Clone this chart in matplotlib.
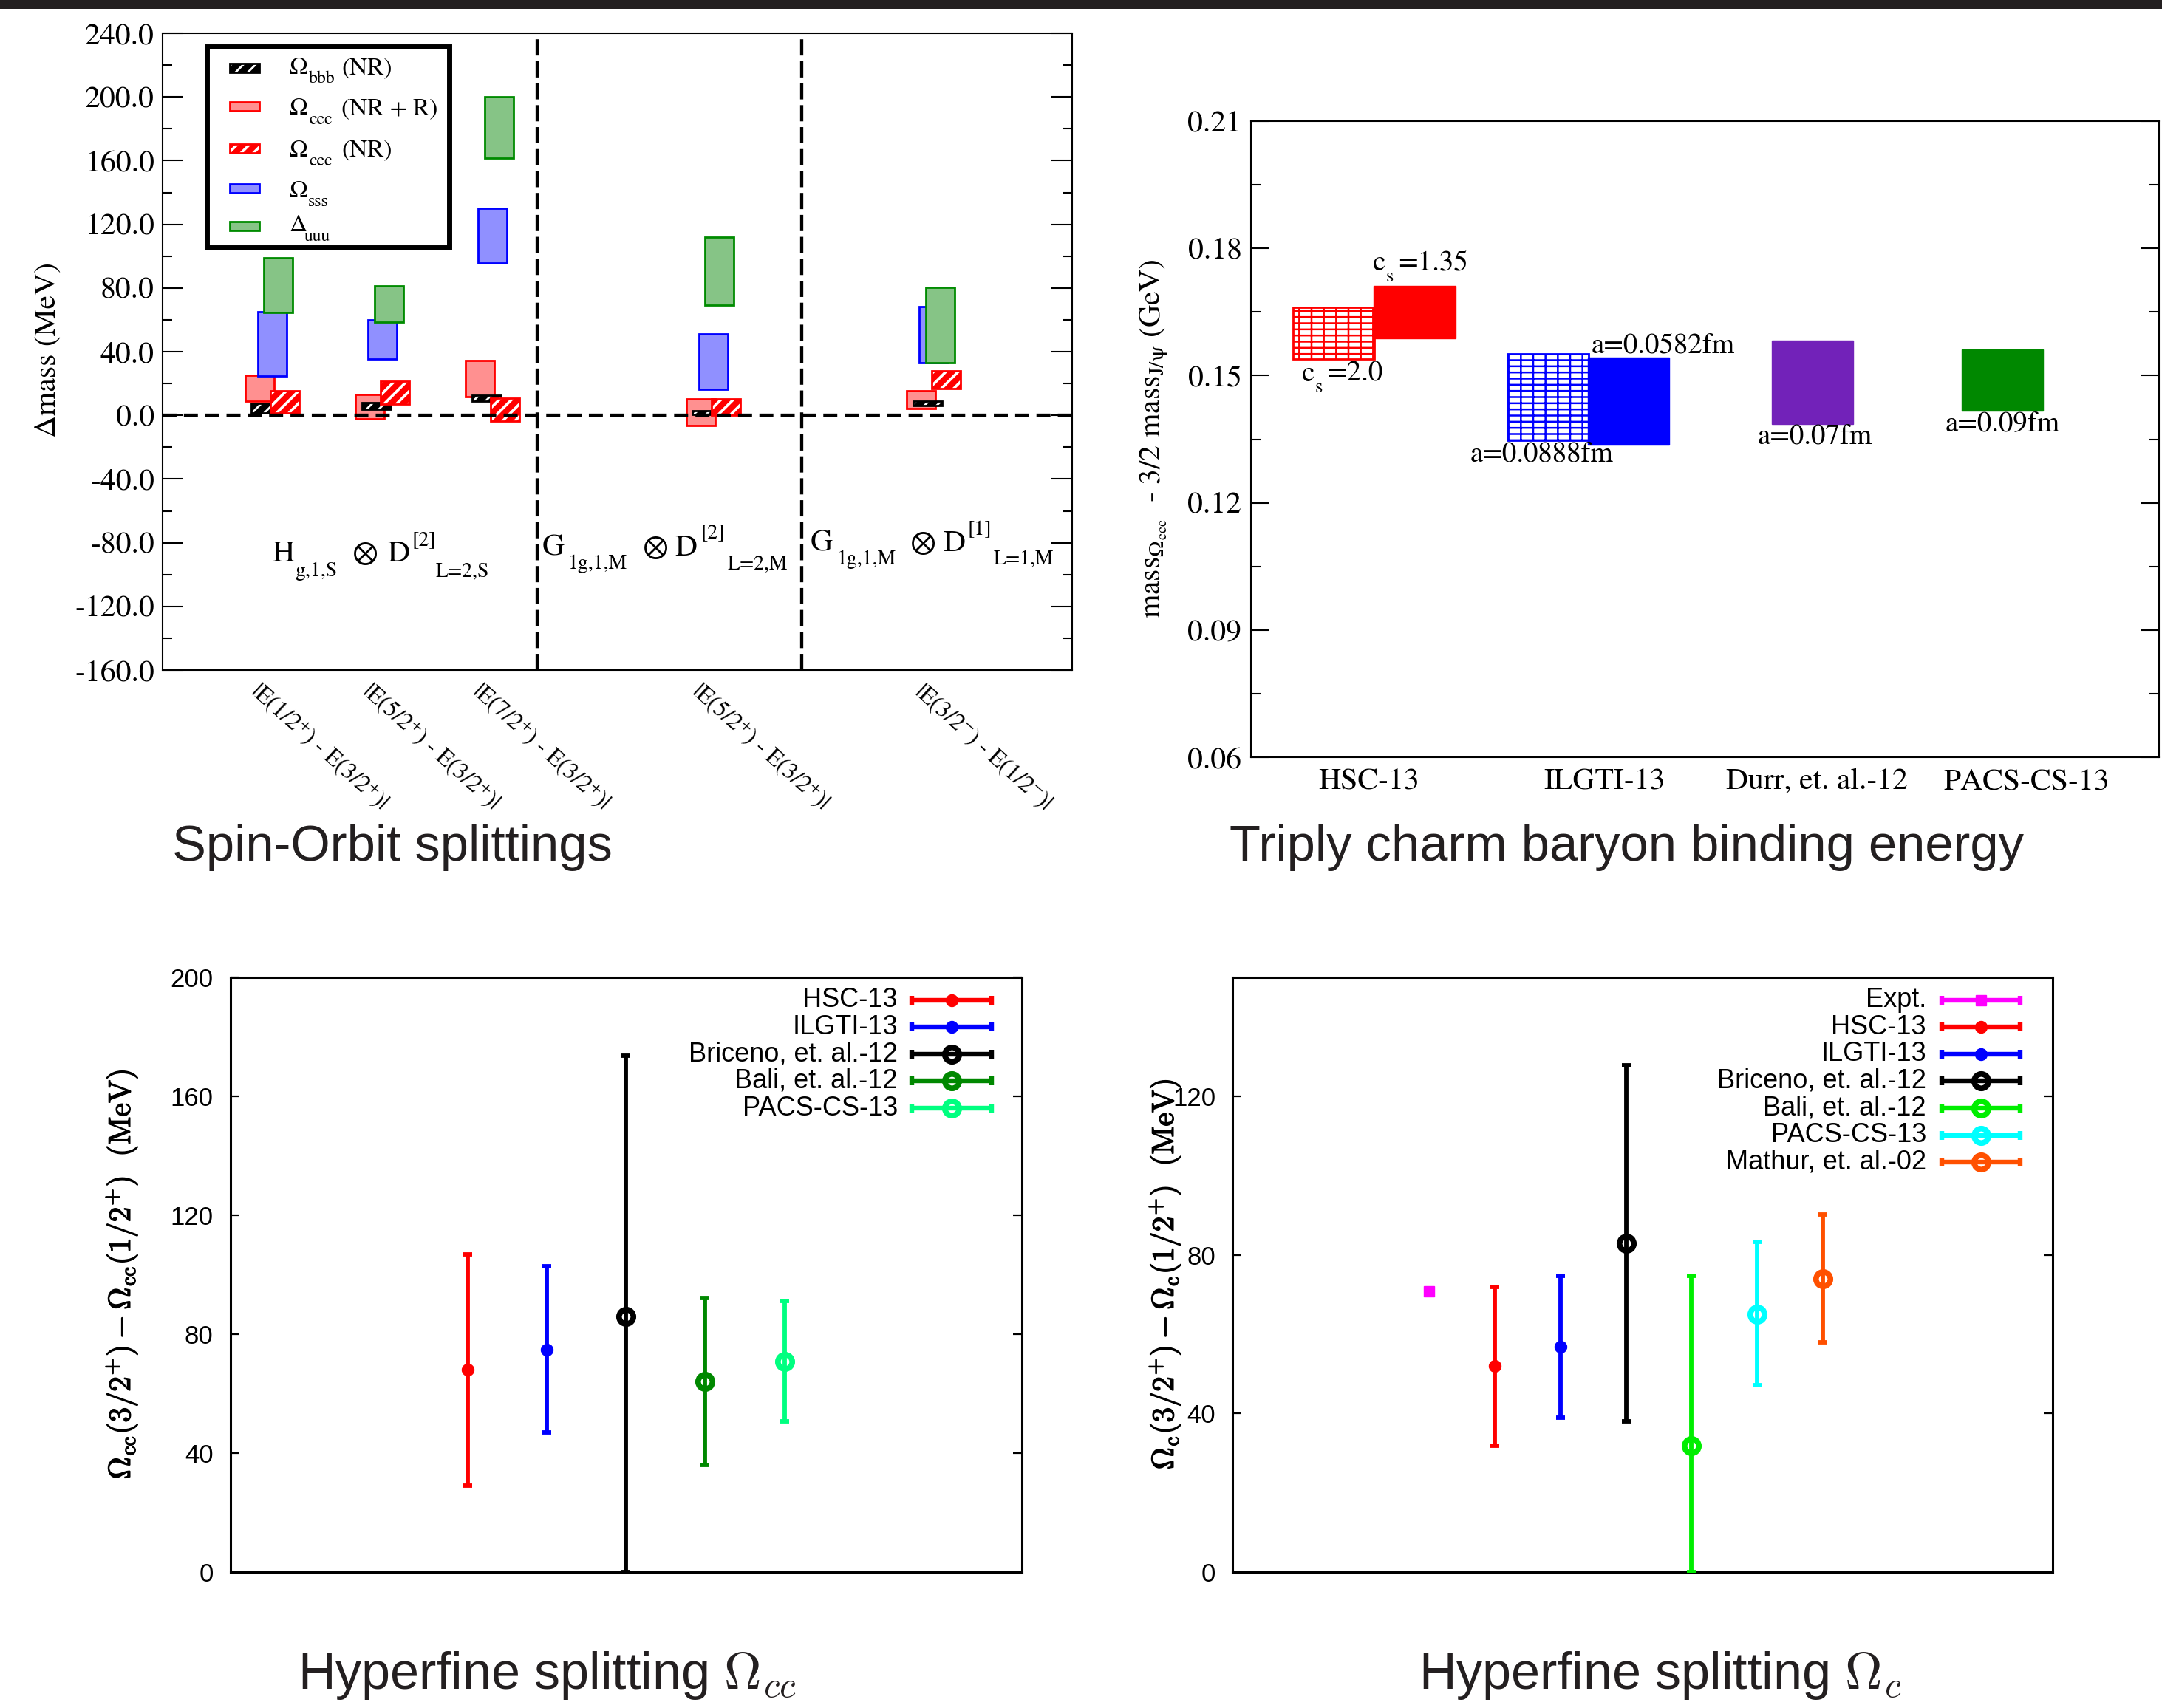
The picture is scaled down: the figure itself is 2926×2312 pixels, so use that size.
import matplotlib
matplotlib.use('Agg')
import matplotlib.pyplot as plt
import matplotlib.ticker as mticker
import matplotlib.patheffects as pe
from matplotlib.patches import Rectangle
import numpy as np

plt.rcParams['mathtext.fontset'] = 'stix'
plt.rcParams['axes.unicode_minus'] = False

W, H, DPI = 2926, 2312, 100
SERIF = ['STIXGeneral', 'Liberation Serif', 'DejaVu Serif', 'DejaVu Sans']
SANS = ['Liberation Sans', 'DejaVu Sans']
INK = '#231f20'

# ---------------- Panel 1: spin-orbit splittings (MeV) ----------------
so_groups = [1, 2, 3, 5, 7]
so_label_pos = [1.153, 2.162, 3.161, 5.151, 7.172]
so_labels = [r'|E(1/2$^{+}$) - E(3/2$^{+}$)|', r'|E(5/2$^{+}$) - E(3/2$^{+}$)|',
             r'|E(7/2$^{+}$) - E(3/2$^{+}$)|', r'|E(5/2$^{+}$) - E(3/2$^{+}$)|',
             r'|E(3/2$^{-}$) - E(1/2$^{-}$)|']
omega_ccc_nrr_lo = [8.7, -2.2, 11.5, -6.4, 4.5]
omega_ccc_nrr_hi = [25.2, 13.3, 34.2, 10.5, 15.5]
omega_bbb_nr_lo = [1.7, 3.7, 8.7, 0.5, 6.2]
omega_bbb_nr_hi = [7.6, 7.9, 12.5, 2.8, 9.0]
omega_sss_lo = [24.6, 35.4, 95.6, 16.2, 33.1]
omega_sss_hi = [65.1, 60.0, 130.1, 51.2, 68.2]
delta_uuu_lo = [64.4, 58.5, 161.4, 69.3, 33.1]
delta_uuu_hi = [99.0, 81.1, 200.1, 112.0, 80.2]
omega_ccc_nr_lo = [1.4, 7.1, -3.7, -0.1, 17.0]
omega_ccc_nr_hi = [15.6, 21.4, 10.7, 10.5, 28.0]
so_dividers = [3.65, 6.05]
so_legend_main = ['Ω', 'Ω', 'Ω', 'Ω', 'Δ']
so_legend_sub = ['bbb', 'ccc', 'ccc', 'sss', 'uuu']
so_legend_tail = ['(NR)', '(NR + R)', '(NR)', '', '']
# irrep labels: (text, role) pieces, m = main, s = sub/superscript
so_irreps = [
    [('H', 'm'), ('g,1,S', 's'), ('⊗', 'm'), ('D', 'm'), ('[2]', 's'), ('L=2,S', 's')],
    [('G', 'm'), ('1g,1,M', 's'), ('⊗', 'm'), ('D', 'm'), ('[2]', 's'), ('L=2,M', 's')],
    [('G', 'm'), ('1g,1,M', 's'), ('⊗', 'm'), ('D', 'm'), ('[1]', 's'), ('L=1,M', 's')],
]
# piece anchor points in figure pixels (left, baseline)
so_irrep_px = [
    [(368, 760), (399, 780), (477, 760), (524, 760), (557, 738), (590, 780)],
    [(734, 752), (769, 770), (870, 752), (913.6, 752), (948.6, 728), (984.4, 770)],
    [(1096.7, 746), (1132.6, 764), (1231.7, 746), (1276, 746), (1310, 724), (1345, 764)],
]

# ---------------- Panel 2: triply charm binding energy (GeV) ----------------
be_categories = ['HSC-13', 'ILGTI-13', 'Durr, et. al.-12', 'PACS-CS-13']
be_cat_pos = [0.56, 1.676, 2.68, 3.674]
be_bar_centers = [0.391, 0.775, 1.408, 1.789, 2.659, 3.559]
be_lo = [0.1539, 0.1588, 0.1347, 0.1337, 0.1386, 0.1417]
be_hi = [0.1661, 0.1712, 0.1551, 0.1542, 0.1583, 0.1562]
be_colors = ['#ff0000', '#ff0000', '#0000ff', '#0000ff', '#7222b9', '#008800']
be_brick = [True, False, True, False, False, False]
be_notes = ['a=0.0888fm', 'a=0.0582fm', 'a=0.07fm', 'a=0.09fm']
be_note_xy = [(1.039, 0.1297), (1.61, 0.1553), (2.40, 0.1340), (3.289, 0.1370)]
be_cs_values = ['=2.0', '=1.35']
be_cs_px = [(1762, 516), (1858, 366)]

# ---------------- Panel 3: hyperfine splitting Omega_cc (MeV) ----------------
hcc_names = ['HSC-13', 'ILGTI-13', 'Briceno, et. al.-12', 'Bali, et. al.-12', 'PACS-CS-13']
hcc_x = [3, 4, 5, 6, 7]
hcc_val = [68.0, 74.9, 85.9, 64.0, 70.9]
hcc_lo = [29.0, 47.0, 0.0, 36.0, 50.8]
hcc_hi = [106.9, 102.9, 173.7, 92.1, 91.1]
hcc_colors = ['#ff0000', '#0000ff', '#000000', '#008800', '#00ff80']
hcc_kind = ['dot', 'dot', 'ring', 'ring', 'ring']

# ---------------- Panel 4: hyperfine splitting Omega_c (MeV) ----------------
hc_names = ['Expt.', 'HSC-13', 'ILGTI-13', 'Briceno, et. al.-12', 'Bali, et. al.-12',
            'PACS-CS-13', 'Mathur, et. al.-02']
hc_x = [3, 4, 5, 6, 7, 8, 9]
hc_val = [70.8, 51.9, 56.9, 82.9, 31.9, 65.0, 73.9]
hc_lo = [70.8, 31.9, 39.0, 38.0, 0.0, 47.1, 57.9]
hc_hi = [70.8, 71.9, 74.8, 127.8, 74.8, 83.2, 90.2]
hc_colors = ['#ff00ff', '#ff0000', '#0000ff', '#000000', '#00ee00', '#00ffff', '#ff5000']
hc_kind = ['square', 'dot', 'dot', 'ring', 'ring', 'ring', 'ring']


def axes_rect(x0, y0, x1, y1):
    return [x0 / W, 1 - y1 / H, (x1 - x0) / W, (y1 - y0) / H]


def fx(x):
    return x / W


def fy(y):
    return 1 - y / H


def ptext(x, y, s, size, **kw):
    kw.setdefault('family', SERIF)
    return fig.text(fx(x), fy(y), s, fontsize=size, ha='left', va='baseline', **kw)


def draw_layers(make, layers):
    for L in layers:
        L = dict(L)
        hlw = L.pop('hlw', None)
        with plt.rc_context({'hatch.linewidth': hlw if hlw else 1.0}):
            arts = make(**L)
        if hlw:
            for a in arts:
                if hasattr(a, 'set_hatch_linewidth'):
                    a.set_hatch_linewidth(hlw)


def dotted(color, tint):
    return [dict(facecolor=tint, edgecolor=color, linewidth=2.0)]


def striped(color, hlw=2.6):
    return [dict(facecolor=color, edgecolor='none', linewidth=0),
            dict(facecolor='none', edgecolor='white', linewidth=0, hatch='//', hlw=hlw),
            dict(facecolor='none', edgecolor=color, linewidth=2.0)]


fig = plt.figure(figsize=(W / DPI, H / DPI), dpi=DPI)
fig.patch.set_facecolor('white')
fig.add_artist(Rectangle((0, fy(12)), 1, 12 / H, transform=fig.transFigure,
                         facecolor=INK, edgecolor='none'))

# ======================= Panel 1 =======================
ax1 = fig.add_axes(axes_rect(220, 45, 1451, 907))
ax1.set_xlim(0.25, 8.5)
ax1.set_ylim(-160, 240)
ax1.yaxis.set_major_locator(mticker.MultipleLocator(40))
ax1.yaxis.set_minor_locator(mticker.MultipleLocator(20))
ax1.yaxis.set_major_formatter(mticker.StrMethodFormatter('{x:.1f}'))
ax1.tick_params(axis='y', which='both', direction='in', left=True, right=True,
                labelright=False, width=1.5, labelsize=30, pad=8, labelfontfamily='STIXGeneral')
ax1.tick_params(axis='y', which='major', length=20.5)
ax1.tick_params(axis='y', which='minor', length=9.2)
ax1.set_xticks(so_label_pos, so_labels, rotation=-42, ha='left', va='top',
               rotation_mode='anchor', fontsize=23, fontfamily=SERIF)
ax1.tick_params(axis='x', length=0, pad=9)
for s in ax1.spines.values():
    s.set_linewidth(1.5)

SO_STEP, SO_W = 0.057, 0.261
RED_TINT, BLUE_TINT, GREEN_TINT = '#ff9090', '#9090ff', '#86c486'
series = [
    (0, omega_ccc_nrr_lo, omega_ccc_nrr_hi, dotted('#ff0000', RED_TINT), 2),
    (1, omega_bbb_nr_lo, omega_bbb_nr_hi, striped('#000000', 2.0), 3),
    (2, omega_sss_lo, omega_sss_hi, dotted('#0000ff', BLUE_TINT), 4),
    (3, delta_uuu_lo, delta_uuu_hi, dotted('#008b00', GREEN_TINT), 5),
    (4, omega_ccc_nr_lo, omega_ccc_nr_hi, striped('#ff0000'), 6),
]
for k, lo, hi, layers, z in series:
    xs = np.array(so_groups, float) + k * SO_STEP
    lo = np.array(lo)
    hi = np.array(hi)
    draw_layers(lambda **kw: ax1.bar(xs, hi - lo, bottom=lo, width=SO_W, align='edge',
                                     zorder=z, **kw).patches, layers)

ax1.axhline(0, color='k', lw=3.1, dashes=(4.4, 2.3), zorder=8)
for xv in so_dividers:
    ax1.axvline(xv, color='k', lw=3.1, dashes=(5.1, 1.8), zorder=8)

for pieces, pts in zip(so_irreps, so_irrep_px):
    for (t, role), (px, py) in zip(pieces, pts):
        ptext(px, py, t, 30 if role == 'm' else 20, zorder=9)

# legend box (hand-made, like xmgrace)
fig.add_artist(Rectangle((fx(280), fy(334.5)), (608 - 280) / W, (334.5 - 63.5) / H,
                         transform=fig.transFigure, facecolor='white', edgecolor='k',
                         linewidth=5, zorder=10))
leg_rows = [91.7, 144.3, 200.7, 255.0, 305.7]
leg_base = [100, 155, 211.7, 266.7, 313.3]
leg_sub_x = [418.3, 418.3, 418.3, 416.7, 411.7]
leg_styles = [striped('#000000', 2.0), dotted('#ff0000', RED_TINT), striped('#ff0000'),
              dotted('#0000ff', BLUE_TINT), dotted('#008b00', GREEN_TINT)]
for yc, yb, sx, m, sb, tl, st in zip(leg_rows, leg_base, leg_sub_x, so_legend_main,
                                     so_legend_sub, so_legend_tail, leg_styles):
    draw_layers(lambda **kw: [fig.add_artist(Rectangle((fx(311), fy(yc + 6)), 40 / W, 12 / H,
                                                       transform=fig.transFigure, zorder=11, **kw))], st)
    ptext(391.7, yb, m, 24, zorder=12)
    ptext(sx, yb + 12.5, sb, 17, zorder=12)
    if tl:
        ptext(462, yb, tl, 24, zorder=12)

fig.text(fx(65), fy(474), 'Δmass (MeV)', rotation=90, fontsize=30, family=SERIF,
         ha='center', va='center')
fig.text(fx(531), fy(1165), 'Spin-Orbit splittings', fontsize=49.5, family=SANS,
         color=INK, ha='center', va='baseline')

# ======================= Panel 2 =======================
ax2 = fig.add_axes(axes_rect(1693, 164, 2922, 1025))
ax2.set_xlim(0, 4.3)
ax2.set_ylim(0.06, 0.21)
ax2.yaxis.set_major_locator(mticker.MultipleLocator(0.03))
ax2.yaxis.set_minor_locator(mticker.MultipleLocator(0.015))
ax2.yaxis.set_major_formatter(mticker.StrMethodFormatter('{x:.2f}'))
ax2.tick_params(axis='y', which='both', direction='in', left=True, right=True,
                labelright=False, width=1.5, labelsize=30, pad=9, labelfontfamily='STIXGeneral')
ax2.tick_params(axis='y', which='major', length=17.2)
ax2.tick_params(axis='y', which='minor', length=9.4)
ax2.set_xticks(be_cat_pos, be_categories, fontsize=30, fontfamily=SERIF)
ax2.tick_params(axis='x', length=0, pad=11)
for s in ax2.spines.values():
    s.set_linewidth(1.5)

for c, lo, hi, col, brick in zip(be_bar_centers, be_lo, be_hi, be_colors, be_brick):
    if brick:
        layers = [dict(facecolor='white', edgecolor=col, linewidth=2.0, hatch='--|', hlw=1.8)]
    else:
        layers = [dict(facecolor=col, edgecolor=col, linewidth=1.0)]
    draw_layers(lambda **kw: ax2.bar([c], [hi - lo], bottom=[lo], width=0.385, zorder=3,
                                     **kw).patches, layers)

for (xx, yy), t in zip(be_note_xy, be_notes):
    ax2.text(xx, yy, t, fontsize=28, family=SERIF, ha='left', va='baseline')
for (px, py), v in zip(be_cs_px, be_cs_values):
    ptext(px, py, 'c', 28)
    ptext(px + 18, py + 15, 's', 19)
    ptext(px + 34, py, v, 28)

fig.text(fx(1562), fy(594), r'mass$_{\Omega_\mathrm{ccc}}$  - 3/2 mass$_\mathrm{J/\psi}$ (GeV)',
         rotation=90, fontsize=30, family=SERIF, ha='center', va='center')
fig.text(fx(2201), fy(1165), 'Triply charm baryon binding energy', fontsize=49.5,
         family=SANS, color=INK, ha='center', va='baseline')


# ======================= Panels 3 & 4 =======================
def hyperfine(ax, xs, vals, los, his, colors, kinds, names, xmax, ymax, leg_tx, leg_x0, leg_x1):
    ax.set_xlim(0, xmax)
    ax.set_ylim(0, ymax)
    ax.set_xticks([])
    ax.yaxis.set_major_locator(mticker.MultipleLocator(40))
    ax.tick_params(axis='y', direction='in', left=True, right=True, labelright=False,
                   length=8.6, width=1.6, labelsize=25, pad=16.5, labelfontfamily='Liberation Sans')
    for s in ax.spines.values():
        s.set_linewidth(2.2)
    ring = dict(marker='o', ms=14, mfc='none', mew=5.5)
    dot = dict(marker='o', ms=11.5, mew=1)
    for x, v, lo, hi, c, k in zip(xs, vals, los, his, colors, kinds):
        if k == 'square':
            ax.plot([x], [v], marker='s', ms=10, color=c, ls='none', zorder=4)
            continue
        st = dot if k == 'dot' else ring
        ax.errorbar([x], [v], yerr=[[v - lo], [hi - v]], fmt='none', ecolor=c,
                    elinewidth=4.2, capsize=4, capthick=4.2, zorder=3)
        ax.plot([x], [v], ls='none', color=c, mec=c, zorder=4, **st)
    for i, (nm, c, k) in enumerate(zip(names, colors, kinds)):
        yy = 0.962 - i * 0.04547
        ax.text(leg_tx, yy, nm, transform=ax.transAxes, ha='right', va='center',
                fontsize=26, family=SANS)
        ax.plot([leg_x0, leg_x1], [yy, yy], transform=ax.transAxes, color=c, lw=4.6,
                solid_capstyle='butt', zorder=5)
        ax.plot([leg_x0, leg_x1], [yy, yy], transform=ax.transAxes, color=c, ls='none',
                marker='|', ms=8, mew=4.6, zorder=5)
        xm = 0.5 * (leg_x0 + leg_x1)
        if k == 'square':
            ax.plot([xm], [yy], transform=ax.transAxes, marker='s', ms=10, color=c, zorder=6)
        else:
            st = dot if k == 'dot' else ring
            ax.plot([xm], [yy], transform=ax.transAxes, color=c, mec=c, zorder=6, **st)


bold = [pe.withStroke(linewidth=1.0, foreground='k')]

ax3 = fig.add_axes(axes_rect(311.5, 1323, 1383, 2128))
hyperfine(ax3, hcc_x, hcc_val, hcc_lo, hcc_hi, hcc_colors, hcc_kind, hcc_names,
          10, 200, 0.8432, 0.8614, 0.9617)
fig.text(fx(165), fy(1725),
         r'$\Omega_\mathrm{cc}(3/2^{+}) - \Omega_\mathrm{cc}(1/2^{+})\ \ (\mathrm{MeV})$',
         rotation=90, fontsize=30, math_fontfamily='cm', ha='center', va='center',
         path_effects=bold)
fig.text(fx(741), fy(2286), r'Hyperfine splitting $\Omega_{cc}$', fontsize=50.5,
         family=SANS, math_fontfamily='cm', color=INK, ha='center', va='baseline')

ax4 = fig.add_axes(axes_rect(1668, 1323, 2777.5, 2128))
hyperfine(ax4, hc_x, hc_val, hc_lo, hc_hi, hc_colors, hc_kind, hc_names,
          12.5, 150, 0.8463, 0.8653, 0.9608)
fig.text(fx(1577), fy(1725),
         r'$\Omega_\mathrm{c}(3/2^{+}) - \Omega_\mathrm{c}(1/2^{+})\ \ (\mathrm{MeV})$',
         rotation=90, fontsize=30, math_fontfamily='cm', ha='center', va='center',
         path_effects=bold)
fig.text(fx(2247), fy(2286), r'Hyperfine splitting $\Omega_{c}$', fontsize=50.5,
         family=SANS, math_fontfamily='cm', color=INK, ha='center', va='baseline')

fig.savefig('out.png', dpi=DPI, facecolor='white')
